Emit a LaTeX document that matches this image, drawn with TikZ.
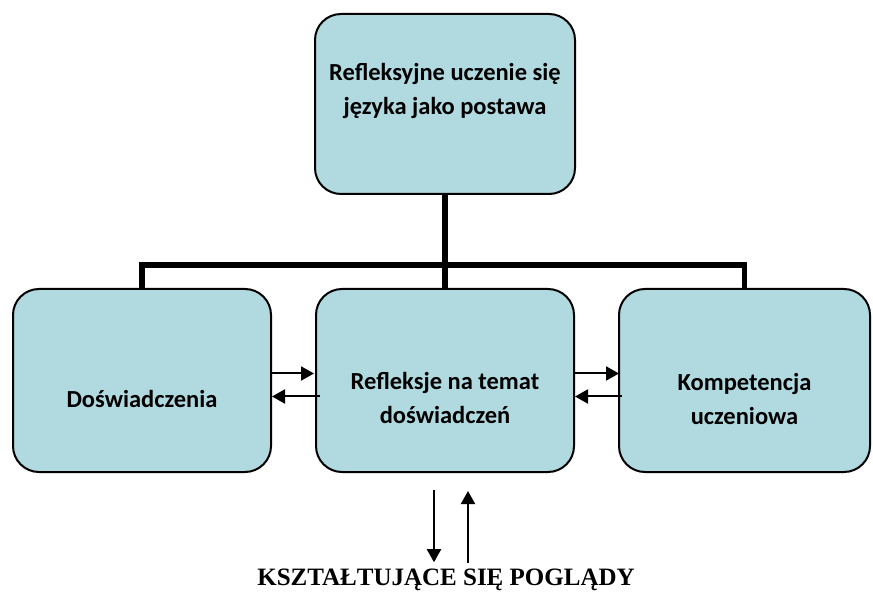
\documentclass[tikz,border=0pt]{standalone}
\usepackage{fontspec}
\setmainfont{Liberation Serif}
\newfontfamily\calibri{Carlito}
\usepackage{xcolor}
\usetikzlibrary{arrows.meta,positioning}
\definecolor{blekit}{RGB}{176,218,224}

\begin{document}
\begin{tikzpicture}[x=1pt, y=-1pt,
    blok/.style={draw, line width=2pt, rounded corners=26pt, fill=blekit, minimum width=258pt, minimum height=183pt},
    napis/.style={font=\calibri\bfseries\fontsize{24.5}{34}\selectfont, align=center, inner sep=0pt},
    galaz/.style={line width=5.5pt},
    strz/.style={line width=2pt, -{Triangle[length=13pt,width=14pt]}}]
    \useasboundingbox (0,0) rectangle (873,593);
    % boxes
    \node[blok, minimum width=260pt, minimum height=180pt] (szczyt) at (445,104) {};
    \node[blok] (lewy) at (142,380.5) {};
    \node[blok] (srodek) at (445,380.5) {};
    \node[blok, minimum width=251pt] (prawy) at (744.5,380.5) {};
    \node[napis, yshift=13pt] (szczyttxt) at (szczyt) {Refleksyjne uczenie się\\języka jako postawa};
    \node[napis, yshift=-18pt] (lewytxt) at (lewy) {Doświadczenia};
    \node[napis, yshift=-17pt] (srodektxt) at (srodek) {Refleksje na temat\\doświadczeń};
    \node[napis, yshift=-18pt] (prawytxt) at (prawy) {Kompetencja\\uczeniowa};
    % tree
    \coordinate (rozg) at (445,265);
    \draw[galaz] (szczyt.south) -- (rozg);
    \draw[galaz] (lewy.north) |- (rozg) -| (prawy.north);
    \draw[galaz] (rozg) -- (srodek.north);
    % side arrows
    \draw[strz] ([yshift=7pt]lewy.east) -- ([xshift=-1pt,yshift=7pt]srodek.west);
    \draw[strz] ([xshift=5pt,yshift=-16pt]srodek.west) -- ([yshift=-16pt]lewy.east);
    \draw[strz] ([yshift=7pt]srodek.east) -- ([xshift=1pt,yshift=7pt]prawy.west);
    \draw[strz] ([xshift=4pt,yshift=-16pt]prawy.west) -- ([yshift=-16pt]srodek.east);
    % bottom
    \node[font=\bfseries\fontsize{25}{30}\selectfont, inner sep=0pt, anchor=base] (poglady) at (446,585) {KSZTAŁTUJĄCE SIĘ POGLĄDY};
    \draw[strz] ([xshift=-11pt,yshift=-17pt]srodek.south) -- ([xshift=-12pt,yshift=6pt]poglady.north);
    \draw[strz] ([xshift=22pt,yshift=5pt]poglady.north) -- ([xshift=23pt,yshift=-18pt]srodek.south);
\end{tikzpicture}
\end{document}
